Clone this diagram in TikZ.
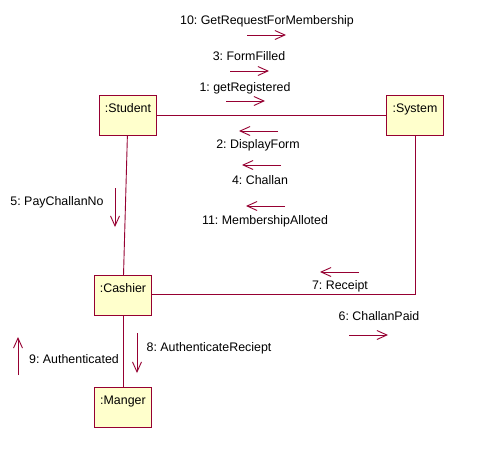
\documentclass[tikz,border=0pt]{standalone}
\usepackage{fontspec}
\setmainfont{Liberation Sans}
\frenchspacing
\usepackage{tikz}
\usetikzlibrary{positioning}
\usetikzlibrary{arrows.meta,calc}
\definecolor{umlred}{RGB}{150,0,50}
\definecolor{umlfill}{RGB}{255,255,204}
\tikzset{line/.style={draw=umlred, line width=0.9pt, -{Straight Barb[length=10pt,width=9pt,line width=0.9pt]}}}
\tikzset{link/.style={draw=umlred, line width=0.9pt}}

\begin{document}
\begin{tikzpicture}[x=1pt,y=-1pt,font=\fontsize{12.4}{14}\selectfont]
\tikzstyle{block} = [rectangle, draw=umlred, line width=0.9pt, fill=umlfill, anchor=north west, minimum width=57pt, minimum height=40pt, inner ysep=4pt, text height=13pt, text depth=19pt]
\tikzstyle{msg} = [inner sep=0pt, text height=9pt, text depth=2.5pt]
\fill[white] (0,0) rectangle (485,448);
\useasboundingbox (0,0) rectangle (485,448);

% objects
    \node [block] (student) at (99,95) {:Student};
    \node [block] (system) at (386,95) {:System};
    \node [block] (cashier) at (94,275) {:Cashier};
    \node [block] (manger) at (94,387) {:Manger};
% links
    \path [link] (student) -- (system);
    \path [link] (student) -- (cashier);
    \path [link] (system.south) |- ([yshift=1.5pt]cashier.east);
    \path [link] (cashier) -- (manger);
% messages
    \node [msg] (m10) at (267,21) {10: GetRequestForMembership};
    \node [msg] (m3) at (249,57) {3: FormFilled};
    \node [msg] (m1) at (245,88) {1: getRegistered};
    \node [msg] (m2) at (258,145) {2: DisplayForm};
    \node [msg] (m4) at (260,181) {4: Challan};
    \node [msg] (m11) at (265,221) {11: MembershipAlloted};
    \node [msg] (m5) at (57,202) {5: PayChallanNo};
    \node [msg] (m7) at (340,286) {7: Receipt};
    \node [msg] (m6) at (379,317) {6: ChallanPaid};
    \node [msg] (m8) at (209,348) {8: AuthenticateReciept};
    \node [msg] (m9) at (74,360) {9: Authenticated};
% arrows
    \path [line] ([shift={(-20,14)}]m10.center) -- ++(39,0);
    \path [line] ([shift={(-19,14)}]m3.center) -- ++(39,0);
    \path [line] ([shift={(-19,13)}]m1.center) -- ++(39,0);
    \path [line] ([shift={(20,-14)}]m2.center) -- ++(-39,0);
    \path [line] ([shift={(21,-16)}]m4.center) -- ++(-39,0);
    \path [line] ([shift={(20,-15)}]m11.center) -- ++(-39,0);
    \path [line] ([shift={(19,-14)}]m7.center) -- ++(-39,0);
    \path [line] ([shift={(-30,18)}]m6.center) -- ++(39,0);
    \path [line] ([shift={(58,-14)}]m5.center) -- ++(0,39);
    \path [line] ([shift={(-72,-15)}]m8.center) -- ++(0,40);
    \path [line] ([shift={(-56,15)}]m9.center) -- ++(0,-38);
\end{tikzpicture}
\end{document}
